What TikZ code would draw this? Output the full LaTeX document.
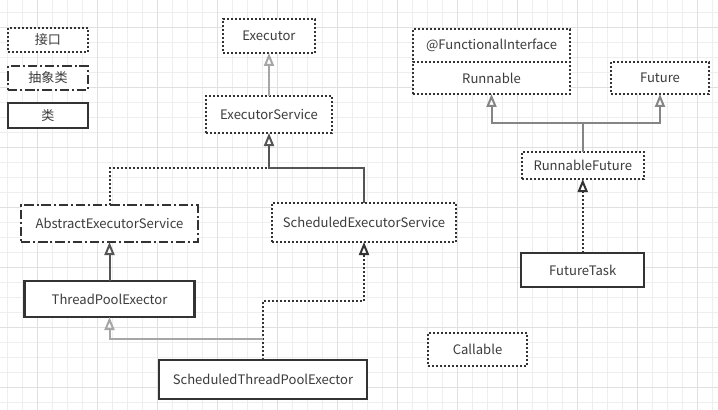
\documentclass[tikz,border=0pt]{standalone}
\usepackage{fontspec}
\setmainfont{Noto Sans CJK SC}
\usetikzlibrary{arrows.meta}
\definecolor{ink}{HTML}{333333}
\definecolor{txt}{HTML}{3C3C3C}
\definecolor{gminor}{HTML}{EEEEEE}
\definecolor{gmajor}{HTML}{E0E0E0}
\definecolor{cdark}{HTML}{555555}
\definecolor{cmid}{HTML}{858585}
\definecolor{clight}{HTML}{A6A6A6}
\tikzset{
  box/.style={fill=white, draw=ink, text=txt, font=\fontsize{9.8pt}{11pt}\selectfont, inner sep=0pt, outer sep=0pt},
  iface/.style={box, line width=1.5pt, dash pattern=on 1.5pt off 1.5pt},
  abstr/.style={box, line width=1.5pt, dash pattern=on 7pt off 2.2pt on 1.5pt off 2.2pt},
  klass/.style={box, line width=1.8pt},
  tip/.style={-{Triangle[open, length=9.75pt, width=7.5pt, line width=1.5pt]}},
  conn/.style={line width=1.5pt},
  darkarrow/.style={conn, draw=cdark, tip},
  midarrow/.style={conn, draw=cmid, tip},
  lightarrow/.style={conn, draw=clight, tip},
  dotline/.style={conn, draw=ink, dash pattern=on 1.5pt off 1.5pt},
  dotarrow/.style={dotline, tip},
}
\begin{document}
\begin{tikzpicture}[x=0.75pt,y=-0.75pt]
\useasboundingbox (0,0) rectangle (718,410);
\fill[white] (0,0) rectangle (718,410);
% grid
\foreach \i in {0,...,47} {\draw[gminor, line width=0.75pt] ({7.3+15*\i},0) -- ({7.3+15*\i},410);}
\foreach \i in {0,...,27} {\draw[gminor, line width=0.75pt] (0,{12.3+15*\i}) -- (718,{12.3+15*\i});}
\foreach \i in {0,...,11} {\draw[gmajor, line width=0.75pt] ({37.3+60*\i},0) -- ({37.3+60*\i},410);}
\foreach \i in {0,...,6} {\draw[gmajor, line width=0.75pt] (0,{27.3+60*\i}) -- (718,{27.3+60*\i});}

% legend
\node[iface, minimum width=60pt, minimum height=18pt] (lgi) at (48,40) {接口};
\node[abstr, minimum width=60pt, minimum height=18pt] (lga) at (48,78) {抽象类};
\node[klass, minimum width=60pt, minimum height=18.75pt] (lgc) at (48,115.5) {类};

% nodes
\node[iface, minimum width=69pt, minimum height=25.5pt] (ex) at (269,36) {Executor};
\node[iface, minimum width=94.5pt, minimum height=27.75pt] (es) at (269,114.5) {ExecutorService};
\node[abstr, minimum width=132.75pt, minimum height=27.75pt] (aes) at (109.5,223.5) {AbstractExecutorService};
\node[iface, minimum width=138pt, minimum height=29.25pt] (ses) at (364,222.5) {ScheduledExecutorService};
\node[klass, minimum width=127.5pt, minimum height=27pt] (tpe) at (109.5,299) {ThreadPoolExector};
\node[klass, minimum width=156pt, minimum height=29.25pt] (stpe) at (263,379.5) {ScheduledThreadPoolExector};

\node[iface, minimum width=117.75pt, minimum height=24.75pt] (fi) at (491.5,45.5) {@FunctionalInterface};
\node[iface, minimum width=117.75pt, minimum height=24pt] (run) at (491.5,78) {Runnable};
\node[iface, minimum width=73.5pt, minimum height=24pt] (fut) at (660,78) {Future};
\node[iface, minimum width=91.5pt, minimum height=20.25pt] (rf) at (582.75,165.5) {RunnableFuture};
\node[klass, minimum width=92.25pt, minimum height=25.5pt] (ft) at (582.75,270) {FutureTask};
\node[iface, minimum width=74.25pt, minimum height=24.75pt] (ca) at (477.5,349.5) {Callable};

% junctions
\coordinate (j1) at (269,168);
\coordinate (j2) at (263,301);
\coordinate (j3) at (263,339);
\coordinate (j4) at (582.75,123);

% connectors
\draw[lightarrow] (es.north) -- (ex.south);
\draw[dotline] (aes.north) |- (j1);
\draw[darkarrow] (ses.north) |- (j1) -- (es.south);
\draw[darkarrow] (tpe.north) -- (aes.south);
\draw[dotarrow] (stpe.north) -- (j2) -| (ses.south);
\draw[lightarrow] (j3) -| (tpe.south);
\draw[midarrow] (rf.north) -- (j4) -| (run.south);
\draw[midarrow] (j4) -| (fut.south);
\draw[dotarrow] (ft.north) -- (rf.south);
\end{tikzpicture}
\end{document}
